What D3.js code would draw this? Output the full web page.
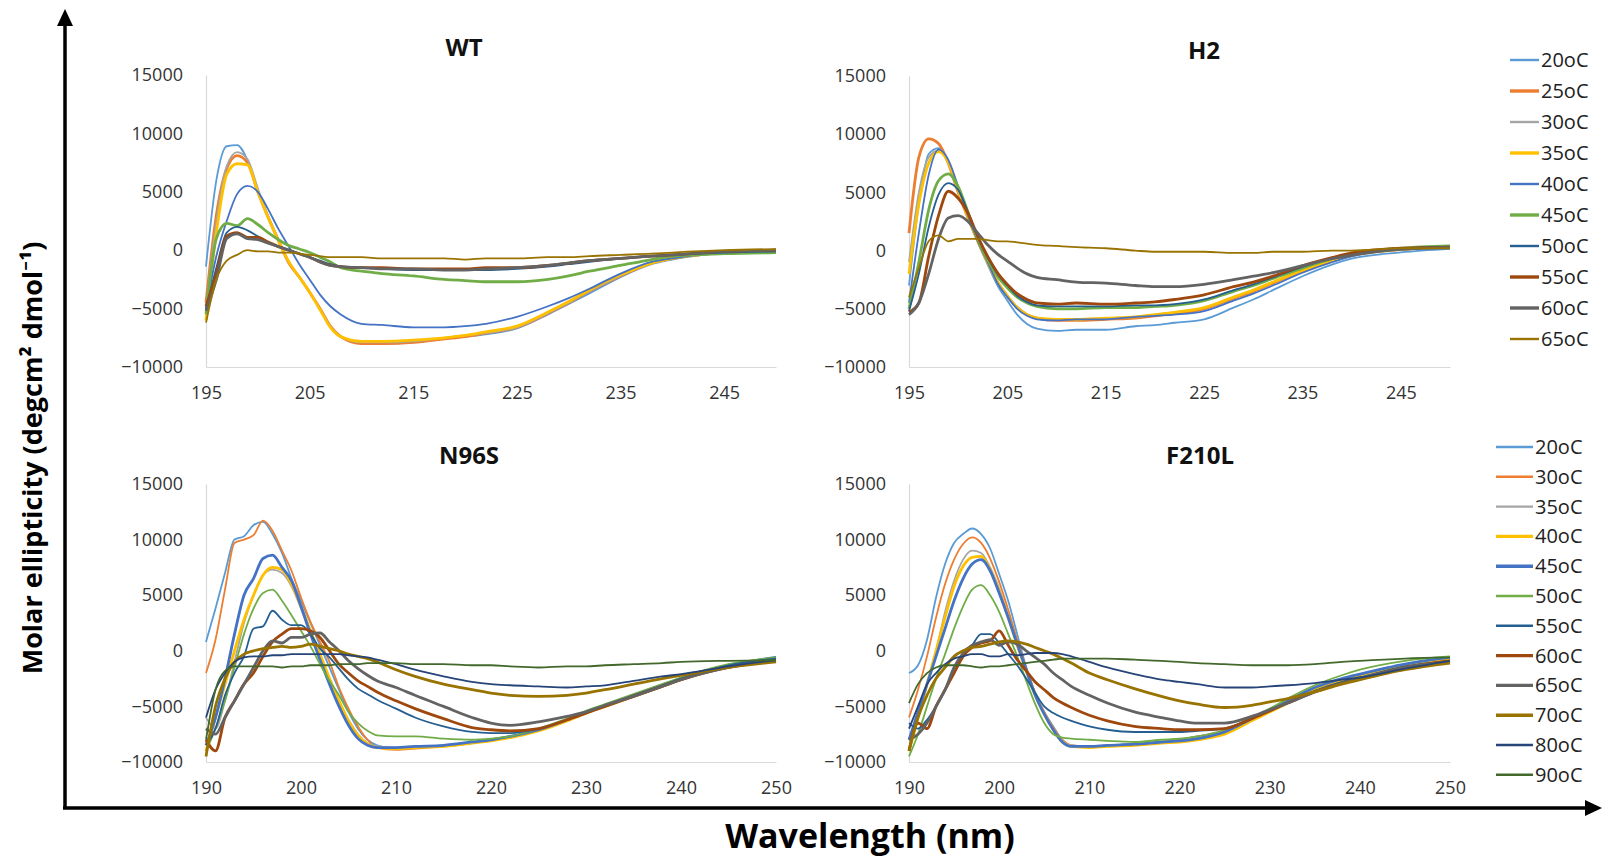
<!DOCTYPE html>
<html>
<head>
<meta charset="utf-8">
<script src="https://cdn.jsdelivr.net/npm/d3@7"></script>
<style>
body { margin: 0; background: #fff; }
</style>
</head>
<body>
<div class="canvas"></div>
<script>
// wavelength grids (nm)
const nmTop = [195, 196, 197, 198, 199, 200, 201, 202, 203, 204, 205, 206, 207, 208, 210, 212, 215, 218, 220, 222, 225, 228, 230, 232, 235, 238, 240, 245, 250];
const nmBottom = [190, 191, 192, 193, 194, 195, 196, 197, 198, 199, 200, 201, 202, 203, 204, 205, 206, 207, 208, 210, 212, 215, 218, 220, 222, 225, 228, 230, 232, 235, 238, 240, 245, 250];

const tempsTop = ['20oC', '25oC', '30oC', '35oC', '40oC', '45oC', '50oC', '55oC', '60oC', '65oC'];
const tempsBottom = ['20oC', '30oC', '35oC', '40oC', '45oC', '50oC', '55oC', '60oC', '65oC', '70oC', '80oC', '90oC'];

const yTicks = [-10000, -5000, 0, 5000, 10000, 15000];
const xTicksTop = [195, 205, 215, 225, 235, 245];
const xTicksBottom = [190, 200, 210, 220, 230, 240, 250];

// molar ellipticity, one row per temperature
const wtValues = [
	[-1400, 6000, 8900, 9000, 7700, 5100, 2900, 900, -1100, -2300, -3600, -5000, -6500, -7400, -7900, -8000, -7900, -7600, -7400, -7200, -6700, -5500, -4600, -3700, -2300, -1200, -800, -200, 0],
	[-4500, 3000, 7000, 8100, 7500, 5000, 2800, 800, -1100, -2300, -3600, -5000, -6500, -7400, -8000, -8000, -7900, -7600, -7400, -7100, -6600, -5400, -4500, -3500, -2200, -1100, -700, -200, 0],
	[-5000, 2500, 7200, 8400, 7800, 5300, 2900, 900, -1000, -2300, -3600, -5000, -6500, -7400, -7900, -7900, -7800, -7500, -7300, -7100, -6600, -5400, -4500, -3500, -2200, -1100, -700, -200, 0],
	[-6000, 1500, 6500, 7400, 7300, 5000, 2800, 800, -1000, -2300, -3600, -5100, -6600, -7400, -7800, -7800, -7700, -7500, -7300, -7000, -6500, -5300, -4400, -3400, -2100, -1100, -700, -200, 0],
	[-5000, -500, 2500, 4800, 5500, 5000, 3500, 1800, 300, -1200, -2500, -3800, -4800, -5500, -6300, -6400, -6600, -6600, -6500, -6300, -5700, -4800, -4100, -3300, -2000, -1000, -700, -200, 0],
	[-5500, 1000, 2300, 2100, 2700, 2200, 1500, 900, 400, 100, -200, -600, -1000, -1500, -1800, -2000, -2200, -2500, -2600, -2700, -2700, -2500, -2200, -1800, -1300, -800, -500, -300, -200],
	[-5000, -1500, 1500, 2000, 1700, 1200, 700, 300, 0, -300, -600, -900, -1200, -1400, -1500, -1600, -1700, -1700, -1700, -1700, -1600, -1400, -1200, -1000, -700, -500, -400, -200, -100],
	[-4800, -2000, 1200, 1500, 1100, 1100, 700, 300, 0, -300, -600, -1000, -1300, -1400, -1500, -1500, -1600, -1600, -1600, -1500, -1500, -1300, -1100, -900, -700, -500, -400, -100, 0],
	[-5200, -2500, 1000, 1400, 1000, 900, 600, 300, 0, -300, -600, -1000, -1300, -1400, -1500, -1600, -1600, -1700, -1700, -1600, -1500, -1300, -1100, -900, -700, -500, -400, -100, 0],
	[-6200, -2500, -900, -400, 0, -100, -100, -200, -200, -300, -400, -500, -600, -600, -600, -700, -700, -700, -800, -700, -700, -600, -600, -500, -400, -300, -200, 0, 100]
];

const h2Values = [
	[-3000, 4000, 8300, 8800, 7500, 5000, 2800, 700, -1200, -3000, -4300, -5500, -6300, -6700, -6900, -6800, -6800, -6500, -6400, -6200, -5900, -4900, -4200, -3400, -2200, -1200, -700, -150, 150],
	[1500, 8000, 9600, 9200, 7500, 5000, 2800, 800, -1000, -2700, -3900, -4900, -5500, -5800, -6000, -6000, -5900, -5800, -5600, -5400, -5000, -4100, -3500, -2800, -1800, -900, -400, 100, 300],
	[-1000, 5000, 8000, 8600, 7600, 5100, 2900, 800, -1000, -2700, -3900, -4900, -5500, -5800, -5900, -5900, -5800, -5700, -5500, -5300, -4900, -4000, -3400, -2700, -1700, -800, -400, 100, 300],
	[-2000, 4000, 7500, 8500, 7600, 5200, 2900, 800, -1000, -2700, -3900, -4900, -5500, -5800, -5900, -5900, -5800, -5700, -5500, -5300, -4900, -4000, -3400, -2700, -1700, -800, -400, 100, 300],
	[-4500, 1500, 6500, 8700, 7800, 5500, 3000, 800, -1000, -2800, -4000, -5000, -5600, -5900, -6000, -5900, -5900, -5700, -5600, -5500, -5200, -4300, -3700, -3000, -1900, -1000, -500, 100, 200],
	[-5000, -1000, 3500, 6000, 6600, 5500, 3300, 1000, -800, -2200, -3200, -4000, -4500, -4800, -5000, -5000, -4900, -4900, -4800, -4700, -4300, -3500, -3000, -2400, -1500, -700, -300, 200, 400],
	[-5200, -2000, 2000, 4800, 5800, 5200, 3300, 1200, -600, -2000, -3000, -3900, -4400, -4700, -4800, -4800, -4800, -4700, -4700, -4600, -4200, -3400, -2900, -2300, -1400, -600, -300, 200, 300],
	[-5300, -4500, -500, 3000, 5100, 4500, 3200, 1200, -500, -1900, -2900, -3700, -4200, -4500, -4600, -4500, -4600, -4500, -4400, -4200, -3800, -3100, -2700, -2200, -1300, -600, -200, 200, 300],
	[-5500, -4500, -2000, 1000, 2800, 3000, 2500, 1500, 500, -300, -900, -1500, -2000, -2300, -2500, -2700, -2800, -3000, -3100, -3100, -2900, -2500, -2200, -1900, -1300, -700, -400, 100, 300],
	[-4000, -1500, 800, 1300, 800, 1000, 1000, 1000, 900, 800, 800, 700, 600, 500, 400, 300, 200, 0, -100, -100, -100, -200, -200, -100, -100, 0, 0, 200, 200]
];

const n96sValues = [
	[800, 3800, 7000, 10000, 10300, 11300, 11600, 10500, 8800, 6500, 4500, 2500, 500, -1500, -3500, -5500, -7000, -8000, -8500, -8800, -8700, -8600, -8300, -8000, -7700, -7100, -6200, -5500, -4900, -4100, -3200, -2600, -1400, -600],
	[-2000, 1000, 5500, 9700, 10000, 10400, 11700, 10800, 9000, 7200, 4800, 2600, 800, -1000, -3300, -5200, -6800, -8000, -8700, -8900, -8800, -8600, -8300, -8000, -7700, -7100, -6200, -5500, -4900, -4100, -3200, -2600, -1400, -700],
	[-6000, -7000, -4500, -1000, 2500, 5000, 6800, 7300, 7000, 5800, 3800, 1500, -500, -2500, -4500, -6200, -7500, -8300, -8600, -8700, -8600, -8500, -8300, -8100, -7800, -7200, -6300, -5600, -5000, -4100, -3200, -2600, -1400, -700],
	[-9000, -6000, -3000, 0, 2800, 5000, 6800, 7500, 7300, 6000, 4000, 1800, -300, -2500, -4500, -6300, -7600, -8400, -8700, -8800, -8700, -8600, -8300, -8100, -7800, -7200, -6300, -5600, -5000, -4100, -3200, -2600, -1400, -800],
	[-8500, -6000, -2500, 1500, 5000, 6500, 8300, 8600, 7500, 6300, 4000, 1500, -800, -3000, -5000, -6700, -7900, -8500, -8700, -8700, -8600, -8500, -8200, -8000, -7700, -7100, -6200, -5500, -4900, -4000, -3100, -2500, -1300, -600],
	[-9000, -7000, -4500, -1500, 1500, 3800, 5200, 5500, 4500, 3200, 1800, 400, -1200, -2700, -4000, -5500, -6500, -7200, -7600, -7700, -7700, -7900, -8000, -7900, -7700, -7000, -6100, -5400, -4800, -3900, -3000, -2400, -1200, -600],
	[-8500, -7000, -4000, -2000, -500, 2000, 2200, 3600, 2800, 2300, 2300, 1500, 200, -600, -1600, -2600, -3400, -3900, -4400, -5200, -6000, -6800, -7300, -7400, -7400, -7000, -6200, -5500, -4900, -4000, -3100, -2500, -1300, -700],
	[-8000, -9000, -6000, -4500, -3000, -2000, -500, 800, 1500, 2000, 2000, 1800, 1200, 0, -1200, -2000, -2700, -3200, -3700, -4500, -5200, -6100, -6900, -7100, -7200, -7000, -6200, -5600, -5000, -4100, -3200, -2600, -1500, -900],
	[-7000, -7500, -6000, -4500, -3000, -1500, 0, 900, 700, 1200, 1200, 1500, 1600, 800, 0, -900, -1600, -2200, -2700, -3300, -4000, -5000, -6000, -6500, -6700, -6400, -5900, -5500, -4900, -4100, -3200, -2600, -1500, -900],
	[-9500, -5000, -2500, -1000, -300, 0, 200, 300, 400, 300, 400, 600, 400, 200, 0, -300, -500, -700, -1000, -1700, -2300, -3000, -3500, -3800, -4000, -4100, -4000, -3800, -3500, -3000, -2500, -2200, -1500, -1000],
	[-6000, -3500, -2000, -1000, -600, -500, -500, -400, -400, -300, -300, -300, -300, -300, -300, -400, -500, -600, -800, -1200, -1700, -2300, -2800, -3000, -3100, -3200, -3300, -3200, -3100, -2700, -2300, -2100, -1400, -850],
	[-8000, -3500, -1800, -1400, -1400, -1400, -1400, -1400, -1500, -1400, -1400, -1300, -1300, -1300, -1200, -1200, -1200, -1100, -1100, -1100, -1200, -1200, -1300, -1300, -1400, -1500, -1400, -1400, -1300, -1200, -1100, -1000, -900, -850]
];

const f210lValues = [
	[-2000, -1300, 1000, 4800, 7800, 9700, 10500, 11000, 10500, 9200, 6900, 4500, 1500, -1500, -3800, -5500, -6800, -8000, -8500, -8600, -8500, -8400, -8200, -8000, -7700, -7200, -6000, -5300, -4500, -3400, -2600, -2200, -1300, -600],
	[-6000, -3500, -500, 3000, 6000, 8200, 9600, 10200, 9700, 8300, 6200, 3700, 1000, -1500, -3800, -5500, -6900, -8000, -8500, -8600, -8500, -8400, -8200, -8000, -7700, -7200, -6100, -5400, -4600, -3500, -2600, -2200, -1300, -700],
	[-8000, -6000, -3000, 0, 3500, 6300, 8200, 9000, 8800, 7500, 5600, 3200, 700, -1700, -3900, -5600, -7000, -8100, -8500, -8600, -8500, -8400, -8200, -8100, -7800, -7300, -6200, -5400, -4600, -3500, -2600, -2200, -1300, -700],
	[-9000, -6000, -3000, 0, 3000, 5800, 7600, 8400, 8500, 7300, 5300, 3000, 500, -1800, -4000, -5700, -7100, -8200, -8600, -8700, -8600, -8500, -8300, -8200, -8000, -7500, -6300, -5500, -4700, -3500, -2700, -2200, -1300, -800],
	[-8000, -5500, -3000, -500, 2000, 4500, 6500, 7800, 8200, 7200, 5200, 3000, 600, -1700, -4000, -5700, -7100, -8200, -8600, -8600, -8500, -8400, -8200, -8100, -7900, -7300, -6100, -5300, -4500, -3300, -2500, -2100, -1200, -600],
	[-9500, -7500, -5000, -2500, -300, 2000, 4000, 5500, 5900, 5000, 3500, 1500, -500, -2700, -4800, -6500, -7500, -7800, -7900, -8000, -8100, -8200, -8000, -7900, -7700, -7100, -6000, -5200, -4300, -3100, -2200, -1700, -900, -500],
	[-6500, -7000, -6200, -5000, -3500, -2000, -500, 500, 1500, 1500, 700, -300, -1300, -2500, -3800, -5000, -5600, -6000, -6300, -6800, -7100, -7300, -7300, -7300, -7200, -7000, -6100, -5400, -4700, -3600, -2800, -2400, -1400, -900],
	[-9000, -6500, -7000, -5000, -3500, -2000, -500, 300, 700, 900, 1800, 500, -800, -1800, -2800, -3500, -4200, -4700, -5100, -5800, -6300, -6800, -7000, -7100, -7100, -7000, -6100, -5400, -4700, -3700, -2900, -2500, -1500, -900],
	[-8000, -7500, -6500, -5000, -3500, -1500, -200, 500, 800, 1000, 500, 800, 600, 0, -600, -1200, -2000, -2600, -3200, -4000, -4700, -5500, -6000, -6300, -6500, -6500, -5900, -5300, -4700, -3700, -2900, -2500, -1500, -1000],
	[-9000, -6000, -4000, -2500, -1500, -500, 0, 300, 400, 600, 800, 900, 800, 600, 300, 0, -300, -700, -1100, -2000, -2600, -3400, -4100, -4500, -4800, -5100, -4900, -4600, -4300, -3700, -3000, -2600, -1700, -1100],
	[-7000, -5000, -3000, -2000, -1200, -700, -500, -300, -300, -500, -500, -300, -400, -300, -200, -200, -200, -300, -500, -1000, -1500, -2100, -2600, -2800, -3000, -3300, -3300, -3200, -3100, -2900, -2600, -2400, -1600, -900],
	[-4700, -3000, -2000, -1500, -1300, -1300, -1300, -1400, -1500, -1400, -1400, -1300, -1200, -1100, -1000, -900, -800, -700, -700, -700, -700, -800, -900, -1000, -1100, -1200, -1300, -1300, -1300, -1200, -1000, -900, -700, -600]
];

// series styles (Excel palette)
const colorsTop = ['#5B9BD5', '#ED7D31', '#A5A5A5', '#FFC000', '#4472C4', '#70AD47', '#255E91', '#9E480E', '#636363', '#997300'];
const widthsTop = [1.8, 2.8, 1.8, 2.8, 1.8, 2.8, 1.8, 2.8, 2.8, 1.8];
const colorsBottom = ['#5B9BD5', '#ED7D31', '#A5A5A5', '#FFC000', '#4472C4', '#70AD47', '#255E91', '#9E480E', '#636363', '#997300', '#264478', '#43682B'];
const widthsBottom = [1.8, 1.8, 1.8, 2.8, 2.8, 1.8, 1.8, 2.8, 2.8, 2.8, 1.8, 1.8];

const tickFont = '"Open Sans", "Noto Sans", sans-serif';

const svg = d3.select('.canvas')
	.append('svg')
	.attr('width', 1603)
	.attr('height', 859)
	.style('display', 'block')
	.style('background', '#fff');

const panels = [
	{ title: 'WT', values: wtValues, nm: nmTop, colors: colorsTop, widths: widthsTop, domain: [195, 250], xTicks: xTicksTop, left: 206, right: 776, top: 75, bottom: 367, titleX: 464, titleY: 48 },
	{ title: 'H2', values: h2Values, nm: nmTop, colors: colorsTop, widths: widthsTop, domain: [195, 250], xTicks: xTicksTop, left: 909, right: 1450, top: 76, bottom: 367, titleX: 1204, titleY: 51 },
	{ title: 'N96S', values: n96sValues, nm: nmBottom, colors: colorsBottom, widths: widthsBottom, domain: [190, 250], xTicks: xTicksBottom, left: 206, right: 776, top: 484, bottom: 762, titleX: 469, titleY: 456 },
	{ title: 'F210L', values: f210lValues, nm: nmBottom, colors: colorsBottom, widths: widthsBottom, domain: [190, 250], xTicks: xTicksBottom, left: 909, right: 1450, top: 484, bottom: 762, titleX: 1200, titleY: 456 }
];

panels.forEach(p => {
	const x = d3.scaleLinear().domain(p.domain).range([p.left, p.right]);
	const y = d3.scaleLinear().domain([-10000, 15000]).range([p.bottom, p.top]);
	const graph = svg.append('g');

	const xAxis = d3.axisBottom(x)
		.tickValues(p.xTicks)
		.tickSize(0)
		.tickSizeOuter(0)
		.tickPadding(19)
		.tickFormat(d3.format('d'));
	const yAxis = d3.axisLeft(y)
		.tickValues(yTicks)
		.tickSize(0)
		.tickSizeOuter(0)
		.tickPadding(23)
		.tickFormat(d3.format('d'));

	const xAxisGroup = graph.append('g')
		.attr('transform', `translate(0,${p.bottom})`)
		.call(xAxis);
	const yAxisGroup = graph.append('g')
		.attr('transform', `translate(${p.left},0)`)
		.call(yAxis);

	[xAxisGroup, yAxisGroup].forEach(a => {
		a.select('.domain').attr('stroke', '#d9d9d9').attr('stroke-width', 1.2);
		a.selectAll('text')
			.attr('fill', '#333')
			.attr('font-family', tickFont)
			.attr('font-size', 18);
	});

	// series
	const line = d3.line()
		.x((d, i) => x(p.nm[i]))
		.y(d => y(d))
		.curve(d3.curveMonotoneX);

	graph.selectAll('path.series')
		.data(p.values)
		.enter()
		.append('path')
		.attr('class', 'series')
		.attr('fill', 'none')
		.attr('stroke', (d, i) => p.colors[i])
		.attr('stroke-width', (d, i) => p.widths[i])
		.attr('stroke-linejoin', 'round')
		.attr('d', line);

	graph.append('text')
		.attr('x', p.titleX)
		.attr('y', p.titleY)
		.attr('dy', '0.35em')
		.attr('text-anchor', 'middle')
		.attr('font-family', tickFont)
		.attr('font-weight', 'bold')
		.attr('font-size', 24)
		.attr('fill', '#111')
		.text(p.title);
});

// legends
const drawLegend = (labels, colors, widths, x0, x1, y0, step) => {
	const legend = svg.append('g');
	const rows = legend.selectAll('g')
		.data(labels)
		.enter()
		.append('g')
		.attr('transform', (d, i) => `translate(0,${y0 + i * step})`);
	rows.append('line')
		.attr('x1', x0)
		.attr('x2', x1)
		.attr('stroke', (d, i) => colors[i])
		.attr('stroke-width', (d, i) => widths[i] + 0.6);
	rows.append('text')
		.attr('x', x1 + 2)
		.attr('dy', '0.35em')
		.attr('font-family', tickFont)
		.attr('font-size', 20)
		.attr('fill', '#222')
		.text(d => d);
};

drawLegend(tempsTop, colorsTop, widthsTop, 1510, 1539, 60, 31);
drawLegend(tempsBottom, colorsBottom, widthsBottom, 1496, 1533, 447, 29.8);

// outer axes with arrows
const frame = svg.append('g');
frame.append('line')
	.attr('x1', 65).attr('y1', 22)
	.attr('x2', 65).attr('y2', 808)
	.attr('stroke', '#000')
	.attr('stroke-width', 3.5);
frame.append('line')
	.attr('x1', 63).attr('y1', 808)
	.attr('x2', 1590).attr('y2', 808)
	.attr('stroke', '#000')
	.attr('stroke-width', 3.5);
frame.append('path')
	.attr('d', 'M65,9 L57,26 L73,26 Z')
	.attr('fill', '#000');
frame.append('path')
	.attr('d', 'M1602,808 L1585,800 L1585,816 Z')
	.attr('fill', '#000');

frame.append('text')
	.attr('x', 870)
	.attr('y', 848)
	.attr('text-anchor', 'middle')
	.attr('font-family', tickFont)
	.attr('font-weight', 'bold')
	.attr('font-size', 34)
	.attr('fill', '#000')
	.text('Wavelength (nm)');

frame.append('text')
	.attr('transform', 'translate(42,458) rotate(-90)')
	.attr('text-anchor', 'middle')
	.attr('font-family', tickFont)
	.attr('font-weight', 'bold')
	.attr('font-size', 27)
	.attr('fill', '#000')
	.text('Molar ellipticity (degcm² dmol⁻¹)');
</script>
</body>
</html>
